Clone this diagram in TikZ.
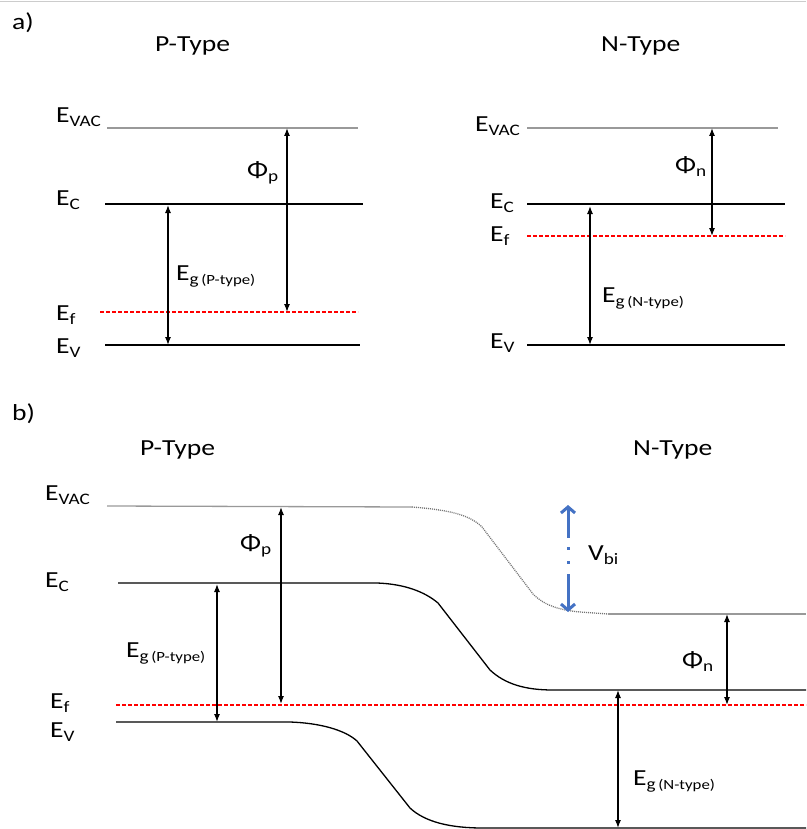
\documentclass[tikz,border=0pt]{standalone}
\usepackage{fontspec}
\setmainfont{Carlito}[FakeStretch=1.2]
\usetikzlibrary{arrows.meta}
\newcommand{\lsub}[1]{\raisebox{-4pt}{\fontsize{16}{16}\selectfont #1}}
\newcommand{\egsub}[1]{E\lsub{g\,{\fontsize{14}{14}\selectfont (#1)}}}
\definecolor{vbiblue}{HTML}{4472C4}
\definecolor{fermired}{HTML}{FF0000}
\begin{document}
\begin{tikzpicture}[x=1pt,y=-1pt,
  lvl/.style={line width=1.3pt, black},
  vac/.style={line width=1.3pt, black!40},
  vacdot/.style={line width=1.3pt, black!55, dash pattern=on 1pt off 1pt},
  fermi/.style={line width=1.2pt, draw=fermired, dash pattern=on 4pt off 2pt},
  darr/.style={line width=1.2pt, {Latex[length=8pt,width=6pt]}-{Latex[length=8pt,width=6pt]}},
  lbl/.style={anchor=base west, inner sep=0pt, font=\fontsize{23}{27}\selectfont},
  vbiarr/.style={line width=3pt, vbiblue, {Straight Barb[length=6pt,width=14pt]}-{Straight Barb[length=6pt,width=14pt]}, dash pattern=on 30pt off 9pt on 3pt off 11pt on 3pt off 10pt on 60pt}
]
\useasboundingbox (0,0) rectangle (806,829);
\draw[line width=1.5pt, black!20] (0,1.5) -- (806,1.5);

% ---------- a) ----------
\node[lbl] (la) at (12,30) {a)};
\node[lbl] (pta) at (155,52) {P-Type};
\node[lbl] (nta) at (601,52) {N-Type};

% P side levels
\draw[vac] (107,128) -- (358,128);
\draw[lvl] (105,204) -- (363,204);
\draw[fermi] (100,312) -- (358,312);
\draw[lvl] (105,345) -- (360,345);
\node[lbl] (pvac) at (56,123) {E\lsub{VAC}};
\node[lbl] (pc) at (56,205) {E\lsub{C}};
\node[lbl] (pf) at (56,320) {E\lsub{f}};
\node[lbl] (pv) at (56,353) {E\lsub{V}};
\coordinate (phiPt) at (287,128);
\coordinate (phiPb) at (287,312);
\draw[darr] (phiPt) -- (phiPb);
\node[lbl] (phip) at (247,178) {Φ\lsub{p}};
\coordinate (egPt) at (168,205);
\coordinate (egPb) at (168,345);
\draw[darr] (egPt) -- (egPb);
\node[lbl] (egp) at (176,280) {\egsub{P-type}};

% N side levels
\draw[vac] (527,128) -- (778,128);
\draw[lvl] (527,204) -- (785,204);
\draw[fermi] (527,236) -- (785,236);
\draw[lvl] (527,345) -- (785,345);
\node[lbl] (nvac) at (475,132) {E\lsub{VAC}};
\node[lbl] (nc) at (490,208) {E\lsub{C}};
\node[lbl] (nf) at (490,241) {E\lsub{f}};
\node[lbl] (nv) at (490,348) {E\lsub{V}};
\coordinate (phiNt) at (712,128);
\coordinate (phiNb) at (712,236);
\draw[darr] (phiNt) -- (phiNb);
\node[lbl] (phin) at (675,173) {Φ\lsub{n}};
\coordinate (egNt) at (590,206);
\coordinate (egNb) at (590,345);
\draw[darr] (egNt) -- (egNb);
\node[lbl] (egn) at (602,302) {\egsub{N-type}};

% ---------- b) ----------
\node[lbl] (lb) at (12,420) {b)};
\node[lbl] (ptb) at (140,455) {P-Type};
\node[lbl] (ntb) at (633,455) {N-Type};

% vacuum level
\draw[vac] (107,506) -- (412,507);
\draw[vacdot] (412,507) .. controls (450,510) and (470,515) .. (482,527)
  -- (533,594) .. controls (545,606) and (560,610) .. (580,612) -- (608,614);
\draw[vac] (608,614) -- (806,614);
% conduction band
\draw[lvl] (118,583) -- (377,583) .. controls (405,584) and (425,592) .. (438,603)
  -- (490,670) .. controls (505,684) and (525,690) .. (553,690) -- (806,690);
% fermi level
\draw[fermi] (116,705) -- (806,705);
% valence band
\draw[lvl] (116,722) -- (290,722) .. controls (320,723) and (345,730) .. (357,741)
  -- (410,808) .. controls (425,822) and (450,828) .. (483,828) -- (806,828);

\node[lbl] (bvac) at (45,500) {E\lsub{VAC}};
\node[lbl] (bc) at (45,587) {E\lsub{C}};
\node[lbl] (bf) at (50,708) {E\lsub{f}};
\node[lbl] (bv) at (50,737) {E\lsub{V}};

\coordinate (bphiPt) at (281,507);
\coordinate (bphiPb) at (281,704);
\draw[darr] (bphiPt) -- (bphiPb);
\node[lbl] (bphip) at (240,550) {Φ\lsub{p}};
\coordinate (begPt) at (217,584);
\coordinate (begPb) at (217,722);
\draw[darr] (begPt) -- (begPb);
\node[lbl] (begp) at (126,657) {\egsub{P-type}};

\coordinate (vbit) at (568,505);
\coordinate (vbib) at (568,612);
\draw[vbiarr] (vbit) -- (vbib);
\node[lbl] (vbi) at (588,560) {V\lsub{bi}};

\coordinate (bphiNt) at (727,614);
\coordinate (bphiNb) at (727,705);
\draw[darr] (bphiNt) -- (bphiNb);
\node[lbl] (bphin) at (682,667) {Φ\lsub{n}};
\coordinate (begNt) at (618,690);
\coordinate (begNb) at (618,828);
\draw[darr] (begNt) -- (begNb);
\node[lbl] (begn) at (633,785) {\egsub{N-type}};
\end{tikzpicture}
\end{document}
